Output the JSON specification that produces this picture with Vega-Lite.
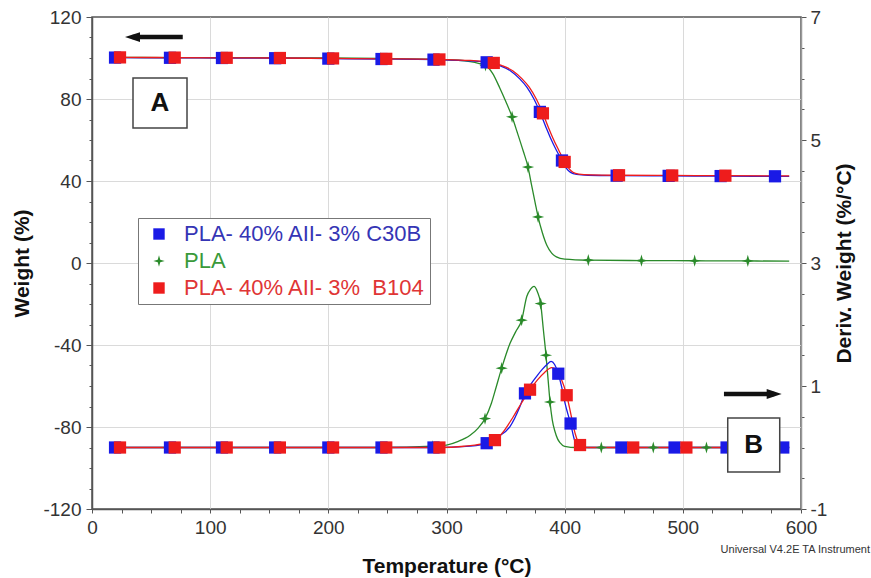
{
  "$schema": "https://vega.github.io/schema/vega-lite/v6.json",
  "width": 709,
  "height": 492,
  "autosize": {"type": "none"},
  "padding": {"left": 92, "top": 17, "right": 70, "bottom": 69},
  "background": "#ffffff",
  "config": {
    "font": "Liberation Sans",
    "view": {"stroke": "#555555", "strokeWidth": 1.5},
    "axis": {
      "labelFont": "Liberation Sans", "labelFontSize": 19, "labelColor": "#333333",
      "titleFont": "Liberation Sans", "titleFontSize": 21, "titleFontWeight": "bold", "titleColor": "#111111",
      "domainColor": "#555555", "domainWidth": 1.5, "tickColor": "#555555", "tickWidth": 1,
      "gridColor": "#dadada", "gridWidth": 1, "labelFlush": false, "labelOverlap": false
    },
    "legend": {
      "padding": 5, "strokeColor": "#777777", "fillColor": "#ffffff",
      "labelFont": "Liberation Sans", "labelFontSize": 22, "labelLimit": 400,
      "symbolSize": 130, "rowPadding": 5, "symbolOffset": 5, "labelOffset": 14, "symbolStrokeWidth": 0
    }
  },
  "datasets": {
    "curves": [
      {"s":"PLA","c":"T","t":17,"v":100.3,"m":0},{"s":"PLA","c":"T","t":20,"v":100.3,"m":1},{"s":"PLA","c":"T","t":65,"v":100.2,"m":1},{"s":"PLA","c":"T","t":110,"v":100.2,"m":1},{"s":"PLA","c":"T","t":155,"v":100.1,"m":1},{"s":"PLA","c":"T","t":200,"v":100,"m":1},{"s":"PLA","c":"T","t":244,"v":99.8,"m":1},{"s":"PLA","c":"T","t":289,"v":99.4,"m":1},{"s":"PLA","c":"T","t":310,"v":98.9,"m":0},{"s":"PLA","c":"T","t":320,"v":98.2,"m":0},{"s":"PLA","c":"T","t":327,"v":97.4,"m":0},{"s":"PLA","c":"T","t":333,"v":96.4,"m":1},{"s":"PLA","c":"T","t":339,"v":92.5,"m":0},{"s":"PLA","c":"T","t":345,"v":85.5,"m":0},{"s":"PLA","c":"T","t":350,"v":79,"m":0},{"s":"PLA","c":"T","t":355.5,"v":71.3,"m":1},{"s":"PLA","c":"T","t":360,"v":63.5,"m":0},{"s":"PLA","c":"T","t":365,"v":54.5,"m":0},{"s":"PLA","c":"T","t":369,"v":46.8,"m":1},{"s":"PLA","c":"T","t":372,"v":38,"m":0},{"s":"PLA","c":"T","t":375,"v":29.5,"m":0},{"s":"PLA","c":"T","t":377.5,"v":22.5,"m":1},{"s":"PLA","c":"T","t":381,"v":15,"m":0},{"s":"PLA","c":"T","t":385,"v":8.5,"m":0},{"s":"PLA","c":"T","t":389,"v":4.8,"m":0},{"s":"PLA","c":"T","t":393,"v":3,"m":0},{"s":"PLA","c":"T","t":400,"v":1.9,"m":0},{"s":"PLA","c":"T","t":420,"v":1.4,"m":1},{"s":"PLA","c":"T","t":465,"v":1.2,"m":1},{"s":"PLA","c":"T","t":510,"v":1.1,"m":1},{"s":"PLA","c":"T","t":555,"v":1,"m":1},{"s":"PLA","c":"T","t":590,"v":0.9,"m":0},
      {"s":"PLA","c":"D","t":17,"v":0,"m":0},{"s":"PLA","c":"D","t":20,"v":0,"m":1},{"s":"PLA","c":"D","t":65,"v":0,"m":1},{"s":"PLA","c":"D","t":110,"v":0,"m":1},{"s":"PLA","c":"D","t":155,"v":0,"m":1},{"s":"PLA","c":"D","t":200,"v":0,"m":1},{"s":"PLA","c":"D","t":244,"v":0,"m":1},{"s":"PLA","c":"D","t":288,"v":0.02,"m":1},{"s":"PLA","c":"D","t":300,"v":0.04,"m":0},{"s":"PLA","c":"D","t":310,"v":0.1,"m":0},{"s":"PLA","c":"D","t":320,"v":0.2,"m":0},{"s":"PLA","c":"D","t":327,"v":0.32,"m":0},{"s":"PLA","c":"D","t":332.6,"v":0.47,"m":1},{"s":"PLA","c":"D","t":338,"v":0.72,"m":0},{"s":"PLA","c":"D","t":342,"v":0.98,"m":0},{"s":"PLA","c":"D","t":346.7,"v":1.29,"m":1},{"s":"PLA","c":"D","t":353.7,"v":1.69,"m":0},{"s":"PLA","c":"D","t":358.5,"v":1.88,"m":0},{"s":"PLA","c":"D","t":363.6,"v":2.07,"m":1},{"s":"PLA","c":"D","t":368,"v":2.46,"m":0},{"s":"PLA","c":"D","t":371,"v":2.57,"m":0},{"s":"PLA","c":"D","t":374,"v":2.62,"m":0},{"s":"PLA","c":"D","t":377,"v":2.53,"m":0},{"s":"PLA","c":"D","t":379.7,"v":2.34,"m":1},{"s":"PLA","c":"D","t":382,"v":1.91,"m":0},{"s":"PLA","c":"D","t":384.2,"v":1.5,"m":1},{"s":"PLA","c":"D","t":386,"v":1.1,"m":0},{"s":"PLA","c":"D","t":387.6,"v":0.74,"m":1},{"s":"PLA","c":"D","t":389.5,"v":0.45,"m":0},{"s":"PLA","c":"D","t":391.8,"v":0.26,"m":0},{"s":"PLA","c":"D","t":394,"v":0.14,"m":0},{"s":"PLA","c":"D","t":396,"v":0.08,"m":0},{"s":"PLA","c":"D","t":400,"v":0.02,"m":0},{"s":"PLA","c":"D","t":410,"v":0,"m":0},{"s":"PLA","c":"D","t":431,"v":0,"m":1},{"s":"PLA","c":"D","t":475,"v":0,"m":1},{"s":"PLA","c":"D","t":520,"v":0,"m":1},{"s":"PLA","c":"D","t":564,"v":0,"m":1},{"s":"PLA","c":"D","t":590,"v":0,"m":0},
      {"s":"C30B","c":"T","t":17,"v":100.2,"m":0},{"s":"C30B","c":"T","t":19.5,"v":100.2,"m":1},{"s":"C30B","c":"T","t":66,"v":100.1,"m":1},{"s":"C30B","c":"T","t":110,"v":100,"m":1},{"s":"C30B","c":"T","t":155,"v":99.9,"m":1},{"s":"C30B","c":"T","t":200,"v":99.7,"m":1},{"s":"C30B","c":"T","t":245,"v":99.5,"m":1},{"s":"C30B","c":"T","t":289,"v":99.2,"m":1},{"s":"C30B","c":"T","t":320,"v":98.6,"m":0},{"s":"C30B","c":"T","t":334,"v":97.9,"m":1},{"s":"C30B","c":"T","t":345,"v":96.3,"m":0},{"s":"C30B","c":"T","t":354,"v":93.8,"m":0},{"s":"C30B","c":"T","t":362,"v":89.8,"m":0},{"s":"C30B","c":"T","t":368,"v":85.8,"m":0},{"s":"C30B","c":"T","t":374,"v":80,"m":0},{"s":"C30B","c":"T","t":379,"v":73.7,"m":1},{"s":"C30B","c":"T","t":384,"v":66.5,"m":0},{"s":"C30B","c":"T","t":388,"v":61,"m":0},{"s":"C30B","c":"T","t":393,"v":55,"m":0},{"s":"C30B","c":"T","t":397.7,"v":50,"m":1},{"s":"C30B","c":"T","t":401,"v":46.5,"m":0},{"s":"C30B","c":"T","t":405,"v":44.2,"m":0},{"s":"C30B","c":"T","t":410,"v":43.2,"m":0},{"s":"C30B","c":"T","t":420,"v":42.8,"m":0},{"s":"C30B","c":"T","t":444,"v":42.6,"m":1},{"s":"C30B","c":"T","t":488,"v":42.5,"m":1},{"s":"C30B","c":"T","t":532,"v":42.4,"m":1},{"s":"C30B","c":"T","t":578,"v":42.3,"m":1},{"s":"C30B","c":"T","t":590,"v":42.3,"m":0},
      {"s":"C30B","c":"D","t":17,"v":0,"m":0},{"s":"C30B","c":"D","t":19.5,"v":0,"m":1},{"s":"C30B","c":"D","t":66,"v":0,"m":1},{"s":"C30B","c":"D","t":110,"v":0,"m":1},{"s":"C30B","c":"D","t":155,"v":0,"m":1},{"s":"C30B","c":"D","t":200,"v":0,"m":1},{"s":"C30B","c":"D","t":245,"v":0,"m":1},{"s":"C30B","c":"D","t":289,"v":0,"m":1},{"s":"C30B","c":"D","t":310,"v":0.01,"m":0},{"s":"C30B","c":"D","t":325,"v":0.03,"m":0},{"s":"C30B","c":"D","t":334,"v":0.07,"m":1},{"s":"C30B","c":"D","t":343,"v":0.17,"m":0},{"s":"C30B","c":"D","t":353.7,"v":0.34,"m":0},{"s":"C30B","c":"D","t":362,"v":0.66,"m":0},{"s":"C30B","c":"D","t":366.4,"v":0.88,"m":1},{"s":"C30B","c":"D","t":371,"v":1.02,"m":0},{"s":"C30B","c":"D","t":376,"v":1.15,"m":0},{"s":"C30B","c":"D","t":381,"v":1.27,"m":0},{"s":"C30B","c":"D","t":385,"v":1.35,"m":0},{"s":"C30B","c":"D","t":388.5,"v":1.4,"m":0},{"s":"C30B","c":"D","t":391.5,"v":1.35,"m":0},{"s":"C30B","c":"D","t":394.6,"v":1.2,"m":1},{"s":"C30B","c":"D","t":397.5,"v":0.98,"m":0},{"s":"C30B","c":"D","t":400.3,"v":0.72,"m":0},{"s":"C30B","c":"D","t":405,"v":0.39,"m":1},{"s":"C30B","c":"D","t":408.7,"v":0.1,"m":0},{"s":"C30B","c":"D","t":412,"v":0.02,"m":0},{"s":"C30B","c":"D","t":420,"v":0,"m":0},{"s":"C30B","c":"D","t":448,"v":0,"m":1},{"s":"C30B","c":"D","t":493,"v":0,"m":1},{"s":"C30B","c":"D","t":537,"v":0,"m":1},{"s":"C30B","c":"D","t":585,"v":0,"m":1},{"s":"C30B","c":"D","t":590,"v":0,"m":0},
      {"s":"B104","c":"T","t":17,"v":100.3,"m":0},{"s":"B104","c":"T","t":23.7,"v":100.3,"m":1},{"s":"B104","c":"T","t":70,"v":100.2,"m":1},{"s":"B104","c":"T","t":114,"v":100.1,"m":1},{"s":"B104","c":"T","t":159,"v":100,"m":1},{"s":"B104","c":"T","t":204,"v":99.8,"m":1},{"s":"B104","c":"T","t":249,"v":99.6,"m":1},{"s":"B104","c":"T","t":294,"v":99.3,"m":1},{"s":"B104","c":"T","t":320,"v":98.8,"m":0},{"s":"B104","c":"T","t":340,"v":97.6,"m":1},{"s":"B104","c":"T","t":347,"v":96.3,"m":0},{"s":"B104","c":"T","t":356,"v":93.8,"m":0},{"s":"B104","c":"T","t":364,"v":89.8,"m":0},{"s":"B104","c":"T","t":370,"v":85.8,"m":0},{"s":"B104","c":"T","t":376,"v":80,"m":0},{"s":"B104","c":"T","t":381.6,"v":73,"m":1},{"s":"B104","c":"T","t":386,"v":66.5,"m":0},{"s":"B104","c":"T","t":390,"v":61,"m":0},{"s":"B104","c":"T","t":395,"v":55,"m":0},{"s":"B104","c":"T","t":400,"v":49.3,"m":1},{"s":"B104","c":"T","t":403,"v":46.5,"m":0},{"s":"B104","c":"T","t":407,"v":44.3,"m":0},{"s":"B104","c":"T","t":412,"v":43.4,"m":0},{"s":"B104","c":"T","t":422,"v":43,"m":0},{"s":"B104","c":"T","t":446,"v":42.8,"m":1},{"s":"B104","c":"T","t":491,"v":42.7,"m":1},{"s":"B104","c":"T","t":536,"v":42.6,"m":1},{"s":"B104","c":"T","t":590,"v":42.5,"m":0},
      {"s":"B104","c":"D","t":17,"v":0,"m":0},{"s":"B104","c":"D","t":23.7,"v":0,"m":1},{"s":"B104","c":"D","t":70,"v":0,"m":1},{"s":"B104","c":"D","t":114,"v":0,"m":1},{"s":"B104","c":"D","t":159,"v":0,"m":1},{"s":"B104","c":"D","t":204,"v":0,"m":1},{"s":"B104","c":"D","t":249,"v":0,"m":1},{"s":"B104","c":"D","t":294,"v":0,"m":1},{"s":"B104","c":"D","t":315,"v":0.02,"m":0},{"s":"B104","c":"D","t":330,"v":0.06,"m":0},{"s":"B104","c":"D","t":341,"v":0.12,"m":1},{"s":"B104","c":"D","t":349,"v":0.28,"m":0},{"s":"B104","c":"D","t":356.5,"v":0.5,"m":0},{"s":"B104","c":"D","t":364,"v":0.74,"m":0},{"s":"B104","c":"D","t":370.7,"v":0.94,"m":1},{"s":"B104","c":"D","t":377,"v":1.1,"m":0},{"s":"B104","c":"D","t":383,"v":1.22,"m":0},{"s":"B104","c":"D","t":389,"v":1.3,"m":0},{"s":"B104","c":"D","t":393,"v":1.27,"m":0},{"s":"B104","c":"D","t":397,"v":1.12,"m":0},{"s":"B104","c":"D","t":401.7,"v":0.85,"m":1},{"s":"B104","c":"D","t":405.5,"v":0.52,"m":0},{"s":"B104","c":"D","t":409,"v":0.22,"m":0},{"s":"B104","c":"D","t":413,"v":0.04,"m":1},{"s":"B104","c":"D","t":418,"v":0,"m":0},{"s":"B104","c":"D","t":458,"v":0,"m":1},{"s":"B104","c":"D","t":503,"v":0,"m":1},{"s":"B104","c":"D","t":548,"v":0,"m":1},{"s":"B104","c":"D","t":590,"v":0,"m":0}
    ],
    "ann": [
      {"k":"box","t":34.7,"t2":80.4,"v":90.2,"v2":65.9},
      {"k":"box","t":538,"t2":582,"v":-75.6,"v2":-102},
      {"k":"lab","t":57.5,"v":78,"txt":"A"},
      {"k":"lab","t":560,"v":-88.8,"txt":"B"},
      {"k":"shaft","t":34.3,"t2":76.8,"v":110.2},
      {"k":"shaft","t":534.8,"t2":577.3,"v":-63.9},
      {"k":"headL","t":34.3,"v":110.2},
      {"k":"headR","t":577.3,"v":-63.9},
      {"k":"foot","t":658.4,"v":-140,"txt":"Universal V4.2E TA Instrument"}
    ]
  },
  "encoding": {
    "x": {
      "field": "t", "type": "quantitative",
      "scale": {"domain": [0, 600], "nice": false, "zero": false},
      "axis": {
        "title": "Temperature (°C)",
        "values": [0,25,50,75,100,125,150,175,200,225,250,275,300,325,350,375,400,425,450,475,500,525,550,575,600],
        "labelExpr": "datum.value % 100 === 0 ? '' + datum.value : ''",
        "tickSize": 4, "labelPadding": 5, "titlePadding": 18,
        "grid": true,
        "gridOpacity": {"condition": {"test": "datum.value % 100 === 0 && datum.value > 0 && datum.value < 600", "value": 1}, "value": 0}
      }
    }
  },
  "layer": [
    {
      "data": {"name": "curves"},
      "transform": [{"filter": "datum.c === 'T'"}],
      "encoding": {
        "y": {
          "field": "v", "type": "quantitative",
          "scale": {"domain": [-120, 120], "nice": false, "zero": false},
          "axis": {
            "title": "Weight (%)", "orient": "left",
            "values": [-120,-110,-100,-90,-80,-70,-60,-50,-40,-30,-20,-10,0,10,20,30,40,50,60,70,80,90,100,110,120],
            "labelExpr": "datum.value % 40 === 0 ? '' + datum.value : ''",
            "tickSize": {"condition": {"test": "datum.value % 40 === 0", "value": 6}, "value": 3},
            "labelPadding": 5, "titlePadding": 10,
            "grid": true,
            "gridOpacity": {"condition": {"test": "datum.value % 40 === 0 && abs(datum.value) < 120", "value": 1}, "value": 0}
          }
        }
      },
      "layer": [
        {
          "mark": {"type": "line", "interpolate": "monotone", "strokeWidth": 1.3},
          "encoding": {
            "stroke": {"field": "s", "type": "nominal", "scale": {"range": ["#ee1c1c", "#1a1ae6", "#2a8a2a"]}, "legend": null}
          }
        },
        {
          "transform": [{"filter": "datum.m === 1"}],
          "mark": {"type": "point", "filled": true, "opacity": 1, "strokeWidth": 0},
          "encoding": {
            "color": {"field": "s", "type": "nominal", "scale": {"domain": ["C30B", "PLA", "B104"], "range": ["#1a1ae6", "#2a8a2a", "#ee1c1c"]},
              "legend": {"orient": "none", "legendX": 46, "legendY": 201, "title": null,
                "labelExpr": "datum.value === 'C30B' ? 'PLA- 40% AII- 3% C30B' : datum.value === 'PLA' ? 'PLA' : 'PLA- 40% AII- 3%\u00a0 B104'",
                "encoding": {"labels": {"fill": {"condition": [{"test": "datum.value === 'PLA'", "value": "#3a9a3a"}, {"test": "datum.value === 'B104'", "value": "#e03535"}], "value": "#3535b5"}}}}},
            "shape": {"field": "s", "type": "nominal", "scale": {"domain": ["C30B", "PLA", "B104"], "range": ["square", "M0,-1L0.22,-0.22L1,0L0.22,0.22L0,1L-0.22,0.22L-1,0L-0.22,-0.22Z", "square"]},
              "legend": {"orient": "none", "legendX": 46, "legendY": 201, "title": null,
                "labelExpr": "datum.value === 'C30B' ? 'PLA- 40% AII- 3% C30B' : datum.value === 'PLA' ? 'PLA' : 'PLA- 40% AII- 3%\u00a0 B104'",
                "encoding": {"labels": {"fill": {"condition": [{"test": "datum.value === 'PLA'", "value": "#3a9a3a"}, {"test": "datum.value === 'B104'", "value": "#e03535"}], "value": "#3535b5"}}}}},
            "size": {"field": "s", "type": "nominal", "scale": {"range": [150, 150, 110]}, "legend": null}
          }
        }
      ]
    },
    {
      "data": {"name": "curves"},
      "transform": [{"filter": "datum.c === 'D'"}],
      "encoding": {
        "y": {
          "field": "v", "type": "quantitative",
          "scale": {"domain": [-1, 7], "nice": false, "zero": false},
          "axis": {
            "title": "Deriv. Weight (%/°C)", "orient": "right", "titleAngle": 270,
            "values": [-1,-0.5,0,0.5,1,1.5,2,2.5,3,3.5,4,4.5,5,5.5,6,6.5,7],
            "labelExpr": "abs((datum.value + 1) % 2) < 0.001 ? '' + datum.value : ''",
            "tickSize": {"condition": {"test": "abs((datum.value + 1) % 2) < 0.001", "value": 5}, "value": 3},
            "labelPadding": 4, "titlePadding": 28, "grid": false, "domainColor": "#999999"
          }
        }
      },
      "layer": [
        {
          "mark": {"type": "line", "interpolate": "monotone", "strokeWidth": 1.3},
          "encoding": {
            "stroke": {"field": "s", "type": "nominal", "scale": {"range": ["#ee1c1c", "#1a1ae6", "#2a8a2a"]}, "legend": null}
          }
        },
        {
          "transform": [{"filter": "datum.m === 1"}],
          "mark": {"type": "point", "filled": true, "opacity": 1, "strokeWidth": 0},
          "encoding": {
            "color": {"field": "s", "type": "nominal", "scale": {"domain": ["C30B", "PLA", "B104"], "range": ["#1a1ae6", "#2a8a2a", "#ee1c1c"]}},
            "shape": {"field": "s", "type": "nominal", "scale": {"domain": ["C30B", "PLA", "B104"], "range": ["square", "M0,-1L0.22,-0.22L1,0L0.22,0.22L0,1L-0.22,0.22L-1,0L-0.22,-0.22Z", "square"]}},
            "size": {"field": "s", "type": "nominal", "scale": {"range": [150, 150, 110]}, "legend": null}
          }
        }
      ]
    },
    {
      "data": {"name": "ann"},
      "encoding": {
        "y": {"field": "v", "type": "quantitative", "scale": {"domain": [-120, 120], "nice": false, "zero": false}, "axis": null}
      },
      "layer": [
        {
          "transform": [{"filter": "datum.k === 'box'"}],
          "mark": {"type": "rect", "fill": "#ffffff", "stroke": "#444444", "strokeWidth": 1.5},
          "encoding": {"x2": {"field": "t2"}, "y2": {"field": "v2"}}
        },
        {
          "transform": [{"filter": "datum.k === 'lab'"}],
          "mark": {"type": "text", "font": "Liberation Sans", "fontSize": 26, "fontWeight": "bold", "color": "#111111"},
          "encoding": {"text": {"field": "txt"}}
        },
        {
          "transform": [{"filter": "datum.k === 'shaft'"}],
          "mark": {"type": "rule", "strokeWidth": 4.5, "color": "#111111"},
          "encoding": {"x2": {"field": "t2"}}
        },
        {
          "transform": [{"filter": "datum.k === 'headL'"}],
          "mark": {"type": "point", "shape": "M-1,0L1,-0.66L1,0.66Z", "filled": true, "size": 225, "color": "#111111", "opacity": 1},
          "encoding": {}
        },
        {
          "transform": [{"filter": "datum.k === 'headR'"}],
          "mark": {"type": "point", "shape": "M1,0L-1,-0.66L-1,0.66Z", "filled": true, "size": 225, "color": "#111111", "opacity": 1},
          "encoding": {}
        },
        {
          "transform": [{"filter": "datum.k === 'foot'"}],
          "mark": {"type": "text", "font": "Liberation Sans", "fontSize": 11, "align": "right", "color": "#333333"},
          "encoding": {"text": {"field": "txt"}}
        }
      ]
    }
  ],
  "resolve": {"scale": {"y": "independent"}}
}
